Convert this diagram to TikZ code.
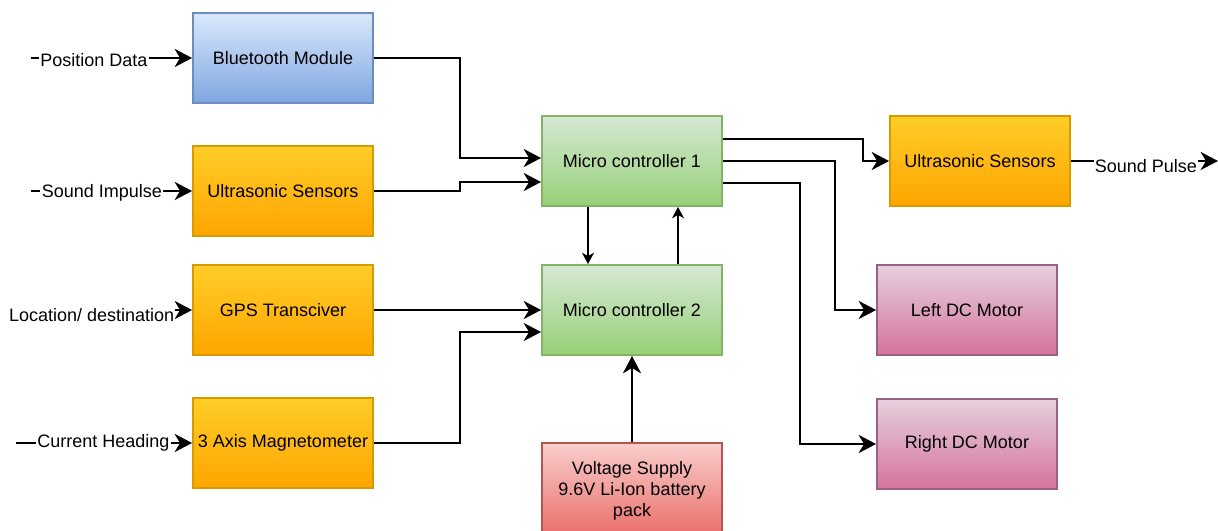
\documentclass[tikz,border=0pt]{standalone}
\usepackage{fontspec}
\setmainfont{Liberation Sans}
\usetikzlibrary{arrows.meta,calc}
\definecolor{bluetop}{HTML}{DAE8FC}\definecolor{bluebot}{HTML}{7EA6E0}\definecolor{bluestroke}{HTML}{6C8EBF}
\definecolor{orangetop}{HTML}{FFCD28}\definecolor{orangebot}{HTML}{FFA500}\definecolor{orangestroke}{HTML}{D79B00}
\definecolor{greentop}{HTML}{D5E8D4}\definecolor{greenbot}{HTML}{97D077}\definecolor{greenstroke}{HTML}{82B366}
\definecolor{pinktop}{HTML}{E6D0DE}\definecolor{pinkbot}{HTML}{D5739D}\definecolor{pinkstroke}{HTML}{996185}
\definecolor{redtop}{HTML}{F8CECC}\definecolor{redbot}{HTML}{EA6B66}\definecolor{redstroke}{HTML}{B85450}
\tikzset{
  txt/.style={font=\fontsize{13.5}{16}\selectfont},
  box/.style={txt, draw, line width=1.4pt, minimum width=135pt, minimum height=67.5pt, inner sep=2pt, align=center},
  bluebox/.style={box, draw=bluestroke, top color=bluetop, bottom color=bluebot},
  orangebox/.style={box, draw=orangestroke, top color=orangetop, bottom color=orangebot},
  greenbox/.style={box, draw=greenstroke, top color=greentop, bottom color=greenbot},
  pinkbox/.style={box, draw=pinkstroke, top color=pinktop, bottom color=pinkbot},
  redbox/.style={box, draw=redstroke, top color=redtop, bottom color=redbot},
  conn/.style={line width=2.1pt, -{Stealth[length=13pt,width=13.5pt,inset=4pt]}},
  thinconn/.style={line width=1.1pt, -{Stealth[length=8.5pt,width=9pt,inset=2.5pt]}},
  lbl/.style={txt, fill=white, inner sep=1pt}
}
\begin{document}
\begin{tikzpicture}[x=0.75pt,y=-0.75pt]
\clip (0,0) rectangle (1218,531);
\fill[white] (0,0) rectangle (1218,531);
% boxes
\node[bluebox]   (bt)  at (283,58)  {Bluetooth Module};
\node[orangebox] (us1) at (283,191) {Ultrasonic Sensors};
\node[orangebox] (gps) at (283,310) {GPS Transciver};
\node[orangebox] (mag) at (283,443) {3 Axis Magnetometer};
\node[greenbox]  (mc1) at (632,161) {Micro controller 1};
\node[greenbox]  (mc2) at (632,310) {Micro controller 2};
\node[redbox, minimum height=72pt, font=\fontsize{13.5}{15.5}\selectfont] (vs) at (632,491) {Voltage Supply\\9.6V Li-Ion battery\\pack};
\node[orangebox] (us2) at (980,161) {Ultrasonic Sensors};
\node[pinkbox]   (ldc) at (967,310) {Left DC Motor};
\node[pinkbox]   (rdc) at (967,444) {Right DC Motor};
% free ends
\coordinate (pdin) at (31,58);
\coordinate (siin) at (31,191);
\coordinate (ldin) at (12,310);
\coordinate (chin) at (16,443);
\coordinate (spout) at (1218,161);
% inputs
\draw[conn] (pdin) -- node[lbl, pos=0.39, yshift=-1.5pt] {Position Data} (bt.west);
\draw[conn] (siin) -- node[lbl, pos=0.44, yshift=-1.5pt] {Sound Impulse} (us1.west);
\draw[conn] (ldin) -- node[lbl, pos=0.442, yshift=-3.75pt] {Location/ destination} (gps.west);
\draw[conn] (chin) -- node[lbl, pos=0.497] {Current Heading} (mag.west);
% to micro controllers
\draw[conn] (bt.east) -- ++(86,0) |- ($(mc1.west)+(0,-3)$);
\draw[conn] (us1.east) -- ++(86,0) |- ($(mc1.west)+(0,21)$);
\draw[conn] (gps.east) -- (mc2.west);
\draw[conn] (mag.east) -- ++(86,0) |- ($(mc2.west)+(0,22)$);
\draw[thinconn] ($(mc1.south)+(-44,0)$) -- ($(mc2.north)+(-44,0)$);
\draw[thinconn] ($(mc2.north)+(46,0)$) -- ($(mc1.south)+(46,0)$);
\draw[conn] (vs.north) -- (mc2.south);
% outputs
\draw[conn] ($(mc1.east)+(0,-22)$) -| ($(us2.west)+(-26,0)$) -- (us2.west);
\draw[conn] (mc1.east) -| ($(ldc.west)+(-41,0)$) -- (ldc.west);
\draw[conn] ($(mc1.east)+(0,22)$) -| ($(rdc.west)+(-76,0)$) -- (rdc.west);
\draw[conn] (us2.east) -- node[lbl, pos=0.51, yshift=-3.75pt] {Sound Pulse} (spout);
\end{tikzpicture}
\end{document}
